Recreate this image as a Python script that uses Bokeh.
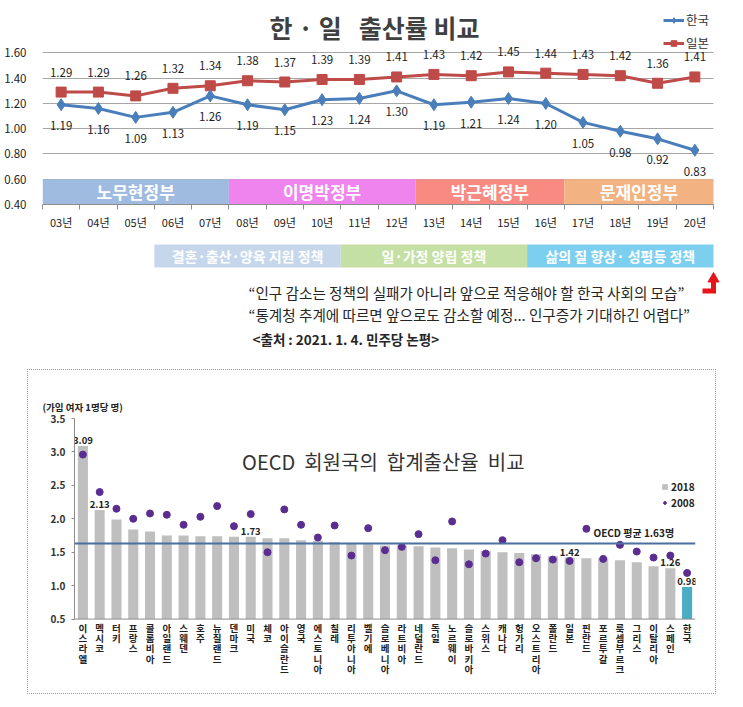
from bokeh.plotting import figure
from bokeh.models import (Range1d, FixedTicker, Label, Legend, LegendItem, Span,
                          ColumnDataSource, FactorRange, NumeralTickFormatter)
from bokeh.embed import file_html
from bokeh.resources import INLINE
from bokeh.core.properties import value

FONT = "Noto Sans CJK KR"
NB = "\u00a0"

# ---------------- data: top chart ----------------
years = ["03년", "04년", "05년", "06년", "07년", "08년", "09년", "10년", "11년",
         "12년", "13년", "14년", "15년", "16년", "17년", "18년", "19년", "20년"]
korea = [1.19, 1.16, 1.09, 1.13, 1.26, 1.19, 1.15, 1.23, 1.24,
         1.30, 1.19, 1.21, 1.24, 1.20, 1.05, 0.98, 0.92, 0.83]
japan = [1.29, 1.29, 1.26, 1.32, 1.34, 1.38, 1.37, 1.39, 1.39,
         1.41, 1.43, 1.42, 1.45, 1.44, 1.43, 1.42, 1.36, 1.41]
gov_names = ["노무현정부", "이명박정부", "박근혜정부", "문재인정부"]
gov_first = ["03년", "08년", "13년", "17년"]
gov_last = ["07년", "12년", "16년", "20년"]
gov_colors = ["#9fbbdf", "#f084ee", "#f98a82", "#f3b281"]
policy_names = ["결혼·출산·양육 지원 정책", "일·가정 양립 정책", "삶의 질 향상· 성평등 정책"]
policy_first = ["06년", "11년", "16년"]
policy_last = ["10년", "15년", "20년"]
policy_colors = ["#c6d7ec", "#c4e0a4", "#7dcff0"]
quotes = ["“인구 감소는 정책의 실패가 아니라 앞으로 적응해야 할 한국 사회의 모습”",
          "“통계청 추계에 따르면 앞으로도 감소할 예정... 인구증가 기대하긴 어렵다”"]
source_note = "<출처 : 2021. 1. 4. 민주당 논평>"
title_top = "한" + NB + "·" + NB + "일" + NB * 3 + "출산률 비교"

# ---------------- data: OECD chart ----------------
countries = ["이스라엘", "멕시코", "터키", "프랑스", "콜롬비아", "아일랜드", "스웨덴", "호주",
             "뉴질랜드", "덴마크", "미국", "체코", "아이슬란드", "영국", "에스토니아", "칠레",
             "리투아니아", "벨기에", "슬로베니아", "라트비아", "네덜란드", "독일", "노르웨이",
             "슬로바키아", "스위스", "캐나다", "헝가리", "오스트리아", "폴란드", "일본", "핀란드",
             "포르투갈", "룩셈부르크", "그리스", "이탈리아", "스페인", "한국"]
tfr2018 = [3.09, 2.13, 1.99, 1.84, 1.81, 1.75, 1.75, 1.74, 1.74, 1.73, 1.73, 1.71, 1.71,
           1.68, 1.67, 1.65, 1.63, 1.62, 1.60, 1.60, 1.59, 1.57, 1.56, 1.54, 1.52, 1.50,
           1.49, 1.47, 1.44, 1.42, 1.41, 1.41, 1.38, 1.35, 1.29, 1.26, 0.98]
tfr2008 = [2.96, 2.40, 2.15, 2.00, 2.08, 2.06, 1.91, 2.03, 2.19, 1.89, 2.07, 1.50, 2.14,
           1.91, 1.72, 1.90, 1.45, 1.86, 1.53, 1.58, 1.77, 1.38, 1.96, 1.32, 1.48, 1.68,
           1.35, 1.41, 1.39, 1.37, 1.85, 1.40, 1.61, 1.51, 1.42, 1.45, 1.19]
labeled = ["이스라엘", "멕시코", "미국", "일본", "스페인", "한국"]
highlight = "한국"
oecd_avg = 1.63
title_oecd = "OECD" + NB * 2 + "회원국의" + NB * 2 + "합계출산율" + NB * 2 + "비교"

KCOL = "#4a7ebb"
JCOL = "#be4b48"

# ================= figure 1 : 한·일 출산률 =================
n = len(years)
idx = {y: i for i, y in enumerate(years)}
xs = [i + 0.5 for i in range(n)]
PX = 671 / n            # pixels per category (frame 42..713)
PY = 130                # pixels per unit

p1 = figure(width=743, height=232,
            x_range=Range1d(0, n + 30 / PX), y_range=Range1d(0.4, 1.6 + 54 / PY),
            output_backend="svg", toolbar_location=None,
            min_border_left=42, min_border_right=0, min_border_top=0, min_border_bottom=22)
p1.outline_line_color = None

gsrc = ColumnDataSource(dict(
    left=[idx[a] for a in gov_first], right=[idx[b] + 1 for b in gov_last],
    mid=[(idx[a] + idx[b] + 1) / 2 for a, b in zip(gov_first, gov_last)],
    name=gov_names, color=gov_colors))
p1.quad(left="left", right="right", bottom=0.4, top=0.6, fill_color="color",
        line_color=None, source=gsrc)
p1.text(x="mid", y=0.5, text="name", source=gsrc, text_color="white",
        text_font=value(FONT), text_font_style="bold", text_font_size="17px",
        text_align="center", text_baseline="middle")

src = ColumnDataSource(dict(x=xs, korea=korea, japan=japan,
                            klab=[f"{v:.2f}" for v in korea],
                            jlab=[f"{v:.2f}" for v in japan]))
jl = p1.line("x", "japan", source=src, line_color=JCOL, line_width=3)
js = p1.scatter("x", "japan", source=src, marker="square", size=10,
                fill_color=JCOL, line_color=JCOL)
kl = p1.line("x", "korea", source=src, line_color=KCOL, line_width=3)
ks = p1.scatter("x", "korea", source=src, marker="diamond", size=12,
                fill_color=KCOL, line_color=KCOL)
p1.text("x", "korea", text="klab", source=src, y_offset=21, text_font=value(FONT),
        text_font_size="11.5px", text_color="#222222", text_align="center",
        text_baseline="middle")
p1.text("x", "japan", text="jlab", source=src, y_offset=-20, text_font=value(FONT),
        text_font_size="11.5px", text_color="#222222", text_align="center",
        text_baseline="middle")

yt = [0.4, 0.6, 0.8, 1.0, 1.2, 1.4, 1.6]
p1.ygrid.ticker = FixedTicker(ticks=yt)
p1.ygrid.grid_line_color = "#a6a6a6"
p1.ygrid.cross_bounds = (0, n)
p1.xgrid.grid_line_color = None
p1.yaxis.ticker = FixedTicker(ticks=yt)
p1.yaxis.formatter = NumeralTickFormatter(format="0.00")
p1.yaxis.axis_line_color = None
p1.yaxis.major_tick_line_color = None
p1.yaxis.minor_tick_line_color = None
p1.yaxis.major_label_standoff = 10
p1.yaxis.major_label_text_font = FONT
p1.yaxis.major_label_text_font_size = "11.5px"
p1.yaxis.major_label_text_color = "#222222"

p1.xaxis.ticker = FixedTicker(ticks=xs, minor_ticks=list(range(n + 1)))
p1.xaxis.major_label_overrides = {x: y for x, y in zip(xs, years)}
p1.xaxis.bounds = (0, n)
p1.xaxis.major_tick_line_color = None
p1.xaxis.major_tick_out = 0
p1.xaxis.minor_tick_out = 5
p1.xaxis.minor_tick_in = 0
p1.xaxis.minor_tick_line_color = "#8c8c8c"
p1.xaxis.axis_line_color = "#8c8c8c"
p1.xaxis.major_label_standoff = 4
p1.xaxis.major_label_text_font = FONT
p1.xaxis.major_label_text_font_size = "11px"
p1.xaxis.major_label_text_color = "#222222"

p1.add_layout(Label(x=(374 - 42) / PX, y=1.6 + (54 - 27) / PY, text=title_top,
                    text_font=FONT, text_font_size="25px", text_font_style="bold",
                    text_color="#404040", text_align="center", text_baseline="middle"))

leg1 = Legend(items=[LegendItem(label="한국", renderers=[kl, ks]),
                     LegendItem(label="일본", renderers=[jl, js])],
              location=(621, 152), glyph_width=21, glyph_height=14, spacing=4,
              padding=0, margin=0, label_standoff=2, border_line_color=None,
              background_fill_alpha=0, label_text_font=FONT,
              label_text_font_size="12.5px", label_text_color="#333333")
p1.add_layout(leg1)

# ================= figure 2 : policies & quotes =================
p2 = figure(width=743, height=128, x_range=Range1d(0, 743), y_range=Range1d(128, 0),
            output_backend="svg", toolbar_location=None, x_axis_location=None,
            y_axis_location=None, min_border=0, min_border_left=0, min_border_right=0,
            min_border_top=0, min_border_bottom=0)
p2.outline_line_color = None
p2.grid.visible = False
psrc = ColumnDataSource(dict(
    left=[42 + idx[a] * PX for a in policy_first],
    right=[42 + (idx[b] + 1) * PX for b in policy_last],
    mid=[42 + (idx[a] + idx[b] + 1) / 2 * PX for a, b in zip(policy_first, policy_last)],
    name=policy_names, color=policy_colors))
p2.quad(left="left", right="right", top=12, bottom=35, fill_color="color",
        line_color=None, source=psrc)
p2.text(x="mid", y=23.5, text="name", source=psrc, text_color="white",
        text_font=value(FONT), text_font_style="bold", text_font_size="14px",
        text_align="center", text_baseline="middle")
p2.text(x=[248, 248], y=[59.5, 81.5], text=quotes, text_font=value(FONT),
        text_font_size="14.6px", text_color="#262626", text_align="left",
        text_baseline="middle")
p2.text(x=[252], y=[106], text=[source_note], text_font=value(FONT),
        text_font_size="13.5px", text_font_style="bold", text_color="#262626",
        text_align="left", text_baseline="middle")
p2.line(x=[702, 713, 713], y=[58.5, 58.5, 48], line_color="#e8141b", line_width=5,
        line_join="miter")
p2.patch(x=[707.5, 718.5, 713], y=[49.5, 49.5, 40], fill_color="#e8141b",
         line_color="#e8141b")

# ================= figure 3 : OECD =================
QY = 200.8 / 3.0        # pixels per unit
FB = 320                # frame bottom (local px); axis at 248.5
p3 = figure(width=687, height=323, x_range=FactorRange(*countries),
            y_range=Range1d(0.5 - (FB - 248.5) / QY, 3.5),
            output_backend="svg", toolbar_location=None, x_axis_location=None,
            min_border_left=46, min_border_right=20, min_border_top=48,
            min_border_bottom=323 - FB, margin=(10, 28, 14, 28),
            styles={"outline": "1px dotted #9c9c9c"})
p3.outline_line_color = None
p3.grid.visible = False

others = [c for c in countries if c != highlight]
bars = p3.vbar(x=others, top=[tfr2018[countries.index(c)] for c in others], bottom=0.5,
               width=0.6, fill_color="#bfbfbf", line_color=None)
p3.vbar(x=[highlight], top=[tfr2018[countries.index(highlight)]], bottom=0.5, width=0.6,
        fill_color="#4bacc6", line_color=None)
p3.add_layout(Span(location=0.5, dimension="width", line_color="#8c8c8c", line_width=1))
p3.add_layout(Span(location=oecd_avg, dimension="width", line_color="#4a6fa0",
                   line_width=2))
dots = p3.scatter(x=countries, y=tfr2008, size=7, fill_color="#5b2d90",
                  line_color="#5b2d90")
p3.text(x=labeled, y=[tfr2018[countries.index(c)] for c in labeled],
        text=[f"{tfr2018[countries.index(c)]:.2f}" for c in labeled], y_offset=-2,
        text_font=value(FONT), text_font_size="9.5px", text_font_style="bold",
        text_color="#222222", text_align="center", text_baseline="bottom")
p3.text(x=["그리스"], y=[oecd_avg], text=[f"OECD 평균 {oecd_avg}명"], x_offset=-3,
        y_offset=-4, text_font=value(FONT), text_font_size="10px",
        text_font_style="bold", text_color="#222222", text_align="center",
        text_baseline="bottom")

# stacked (vertical) country names below the axis
cx, cy, ch, coff = [], [], [], []
for c in countries:
    for k, letter in enumerate(c):
        cx.append(c)
        cy.append(0.5)
        ch.append(letter)
        coff.append(8.5 + 10.4 * k)
p3.text(x=cx, y=cy, text=ch, y_offset=coff, text_font=value(FONT),
        text_font_size="9.5px", text_font_style="bold", text_color="#222222",
        text_align="center", text_baseline="middle")

p3.add_layout(Label(x=18.4, y=2.85, text=title_oecd,
                    text_font=FONT, text_font_size="20px", text_color="#333333",
                    text_align="center", text_baseline="middle"))

p3.title.text = "(가임 여자 1명당 명)"
p3.title.align = "left"
p3.title.offset = -32
p3.title.standoff = 9
p3.title.text_font = FONT
p3.title.text_font_size = "9.5px"
p3.title.text_font_style = "bold"
p3.title.text_color = "#222222"

p3.yaxis.ticker = FixedTicker(ticks=[0.5, 1.0, 1.5, 2.0, 2.5, 3.0, 3.5])
p3.yaxis.bounds = (0.5, 3.5)
p3.yaxis.formatter = NumeralTickFormatter(format="0.0")
p3.yaxis.axis_line_color = "#8c8c8c"
p3.yaxis.major_tick_line_color = "#8c8c8c"
p3.yaxis.major_tick_out = 3
p3.yaxis.major_tick_in = 0
p3.yaxis.minor_tick_line_color = None
p3.yaxis.major_label_text_font = FONT
p3.yaxis.major_label_text_font_size = "10px"
p3.yaxis.major_label_text_font_style = "bold"
p3.yaxis.major_label_text_color = "#333333"
p3.yaxis.major_label_standoff = 6

leg3 = Legend(items=[LegendItem(label="2018", renderers=[bars]),
                     LegendItem(label="2008", renderers=[dots])],
              location=(587, FB - 139.7), glyph_width=7, glyph_height=7, spacing=1,
              padding=0, margin=0, label_standoff=3, border_line_color=None,
              background_fill_alpha=0, label_text_font=FONT,
              label_text_font_size="10px", label_text_font_style="bold",
              label_text_color="#222222")
p3.add_layout(leg3)

open("out.html", "w").write(file_html([p1, p2, p3], INLINE))
